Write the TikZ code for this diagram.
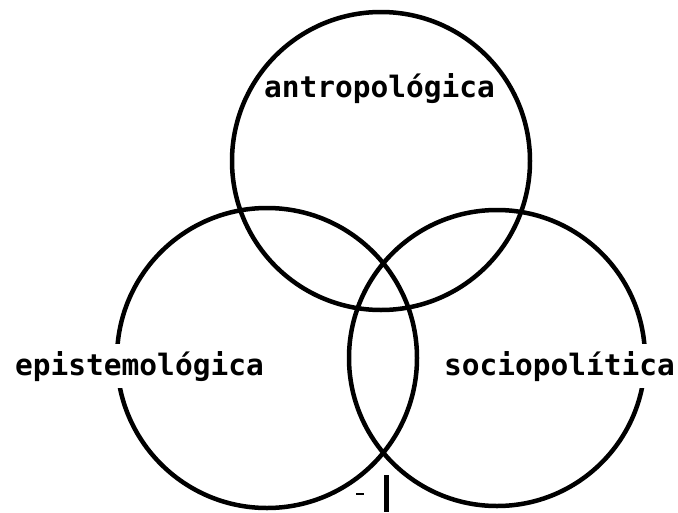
\documentclass[tikz,border=0pt]{standalone}
\usepackage{fontspec}
\newfontfamily\typefont{DejaVu Sans Mono}
\begin{document}
\begin{tikzpicture}[x=1pt,y=-1pt,
  ring/.style={circle, draw=black, line width=4.5pt, inner sep=0pt},
  lbl/.style={font=\typefont\bfseries\fontsize{29.5pt}{32pt}\selectfont, inner xsep=1pt, inner ysep=7pt},
  barline/.style={draw=black, line width=4.5pt},
  dashline/.style={draw=black, line width=2.5pt}]
\useasboundingbox (0,0) rectangle (678,512);
\node[ring, minimum size=298pt] (top) at (381,161) {};
\node[ring, minimum size=300pt] (left) at (267,358) {};
\node[ring, minimum size=296pt] (right) at (497,358) {};
\node[lbl, anchor=base] (anthro) at (379.5,97) {antropológica};
\node[lbl, fill=white, anchor=base] (episte) at (139.5,375) {epistemológica};
\node[lbl, fill=white, anchor=base] (socio) at (559.5,375) {sociopolítica};
\coordinate (barT) at (386.5,475);
\coordinate (barB) at (386.5,512);
\coordinate (dashL) at (356,494);
\coordinate (dashR) at (364,494);
\draw[barline] (barT) -- (barB);
\draw[dashline] (dashL) -- (dashR);
\end{tikzpicture}
\end{document}
